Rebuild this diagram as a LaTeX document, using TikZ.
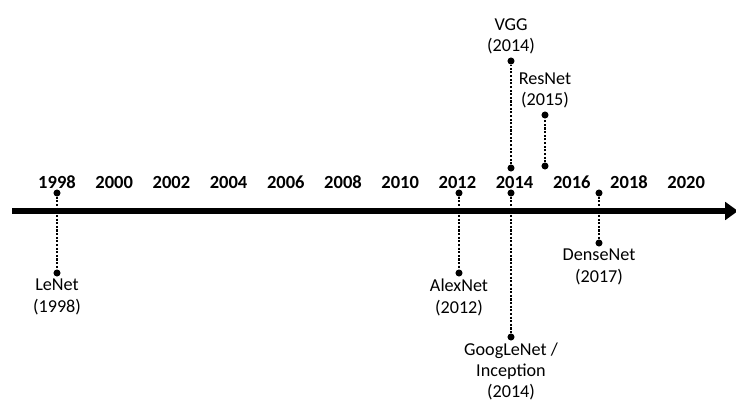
\documentclass[tikz,border=0pt]{standalone}
\usepackage{fontspec}
\setmainfont{Carlito}
\usetikzlibrary{arrows.meta,positioning}

\begin{document}
\begin{tikzpicture}[x=0.03cm,y=-0.03cm]
\tikzset{
  pin/.style={circle,fill=black,inner sep=0pt,minimum size=6pt},
  stem/.style={line width=1.8pt,dash pattern=on 1.8pt off 1.3pt},
  yearlbl/.style={font=\fontsize{15.8}{17}\selectfont\bfseries},
  netlbl/.style={font=\fontsize{15.5}{18}\selectfont,align=center,inner sep=0.5pt}
}
\useasboundingbox (0,0) rectangle (736,403);
% time axis
\coordinate (axstart) at (12,211);
\coordinate (axend) at (738,211);
\draw [line width=4.5pt,-{Triangle[length=11pt,width=15pt]}] (axstart) -- (axend);
\foreach \yr [count=\i from 0] in {1998,2000,...,2020}
  \node [yearlbl] (y\yr) at ({57+\i*57.2},182) {\yr};
% below the axis
\node [pin] (lenetA) at (57,193) {};
\node [pin] (lenetB) at (57,273) {};
\draw [stem] (lenetA) -- (lenetB);
\node [netlbl,below=1.5pt of lenetB] (lenet) {LeNet\\(1998)};
\node [pin] (alexA) at (459,193) {};
\node [pin] (alexB) at (459,273) {};
\draw [stem] (alexA) -- (alexB);
\node [netlbl,below=1.5pt of alexB] (alex) {AlexNet\\(2012)};
\node [pin] (googA) at (511,193) {};
\node [pin] (googB) at (511,337) {};
\draw [stem] (googA) -- (googB);
\node [netlbl,below=1pt of googB] (goog) {GoogLeNet /\\Inception\\(2014)};
\node [pin] (denseA) at (599,193) {};
\node [pin] (denseB) at (599,243) {};
\draw [stem] (denseA) -- (denseB);
\node [netlbl,below=1.5pt of denseB] (dense) {DenseNet\\(2017)};
% above the axis
\node [pin] (vggA) at (511,168) {};
\node [pin] (vggB) at (511,61) {};
\draw [stem] (vggA) -- (vggB);
\node [netlbl,above=2pt of vggB] (vgg) {VGG\\(2014)};
\node [pin] (resA) at (545,166) {};
\node [pin] (resB) at (545,115) {};
\draw [stem] (resA) -- (resB);
\node [netlbl,above=2pt of resB] (res) {ResNet\\(2015)};
\end{tikzpicture}
\end{document}
